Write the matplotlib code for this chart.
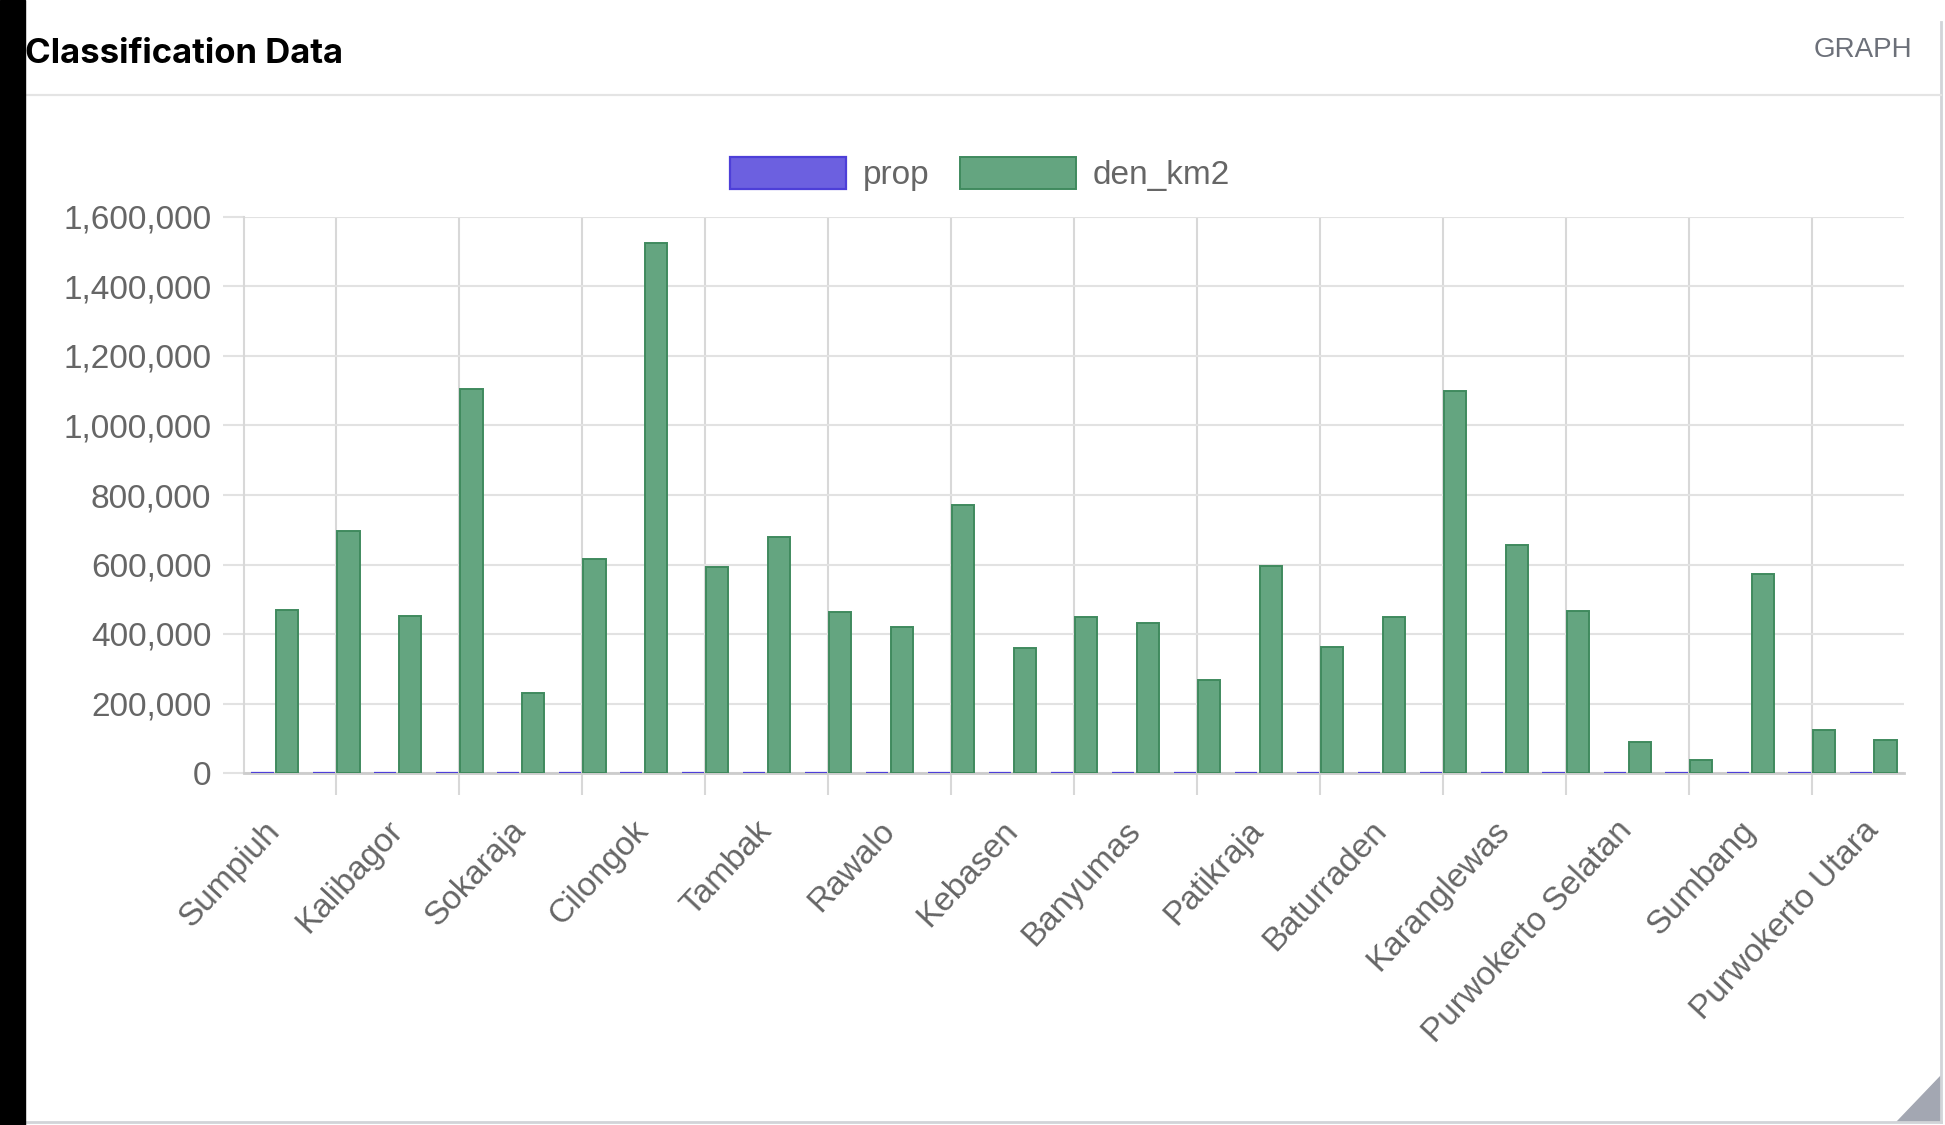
import numpy as np
import matplotlib
matplotlib.use("Agg")
import matplotlib.pyplot as plt
from matplotlib.ticker import FuncFormatter, FixedLocator
from matplotlib.patches import Rectangle, Polygon
from matplotlib.lines import Line2D

plt.rcParams["font.family"] = ["Liberation Sans", "DejaVu Sans"]

# 1. data: 27 districts, only every second label is shown on the axis
shown_labels = ["Sumpiuh", "Kalibagor", "Sokaraja", "Cilongok", "Tambak", "Rawalo",
                "Kebasen", "Banyumas", "Patikraja", "Baturraden", "Karanglewas",
                "Purwokerto Selatan", "Sumbang", "Purwokerto Utara"]
den_km2 = [470000, 695000, 452000, 1106000, 231000, 617000, 1526000, 592000, 678000,
           462000, 421000, 771000, 359000, 449000, 431000, 268000, 595000, 362000,
           449000, 1099000, 655000, 467000, 90000, 36000, 574000, 125000, 95000]
prop = [0, 0, 0, 0, 0, 0, 0, 0, 0, 0, 0, 0, 0, 0, 0, 0, 0, 0, 0, 0, 0, 0, 0, 0, 0, 0, 0]

W, H = 1945, 1125
fig = plt.figure(figsize=(W / 100, H / 100), dpi=100)
fig.patch.set_facecolor("white")

# 2. card frame
fig.add_artist(Rectangle((0, 0), 25 / W, 1, transform=fig.transFigure, color="black", zorder=5))
fig.add_artist(Line2D([1941 / W, 1941 / W], [1 - 1122 / H, 1 - 22 / H], transform=fig.transFigure,
                      color="#d2d4d8", lw=2))
fig.add_artist(Line2D([25 / W, 1941 / W], [1 - 1122 / H, 1 - 1122 / H], transform=fig.transFigure,
                      color="#d2d4d8", lw=2))
fig.add_artist(Polygon([[1897 / W, 1 - 1122 / H], [1941 / W, 1 - 1076 / H], [1941 / W, 1 - 1122 / H]],
                       closed=True, transform=fig.transFigure, color="#a3a7b2"))
fig.add_artist(Line2D([25 / W, 1941 / W], [1 - 95 / H, 1 - 95 / H], transform=fig.transFigure,
                      color="#e4e4e4", lw=1.6))

fig.text(25 / W, 1 - 63 / H, "Classification Data", family=["Inter", "DejaVu Sans"],
         fontweight="bold", fontsize=25, color="black", va="baseline")
fig.text(1912 / W, 1 - 57 / H, "GRAPH", fontsize=20, color="#6c7079", ha="right", va="baseline")

# 3. chart
ax = fig.add_axes([244 / W, 1 - 773 / H, (1904 - 244) / W, (773 - 217) / H])
x = np.arange(len(den_km2))
b1 = ax.bar(x - 0.2, prop, width=0.36, color="#6c60e0", edgecolor="#4d3fd8", linewidth=1.6,
            label="prop", zorder=3)
b2 = ax.bar(x + 0.2, den_km2, width=0.36, color="#64a580", edgecolor="#3f8a5e", linewidth=1.4,
            label="den_km2", zorder=3)

ax.set_xlim(-0.5, len(den_km2) - 0.5)
ax.set_ylim(0, 1600000)
ax.set_yticks(np.arange(0, 1600001, 200000))
ax.yaxis.set_major_formatter(FuncFormatter(lambda v, p: f"{int(v):,}"))

ax.set_xticks(x[::2])
ax.set_xticklabels(shown_labels, rotation=47, ha="right", va="center", rotation_mode="anchor")
ax.xaxis.set_minor_locator(FixedLocator(x[1::2]))

ax.set_axisbelow(True)
ax.grid(axis="y", which="major", color="#e2e2e2", lw=1.5)
ax.grid(axis="x", which="minor", color="#d8d8d8", lw=1.5)
ax.grid(axis="x", which="major", visible=False)

ax.tick_params(axis="y", length=15, width=1.5, color="#e2e2e2", pad=8.5, labelsize=24,
               labelcolor="#666666")
ax.tick_params(axis="x", which="major", length=0, pad=38, labelsize=24, labelcolor="#666666")
ax.tick_params(axis="x", which="minor", length=16, width=1.5, color="#d8d8d8")

for s in ["top", "right"]:
    ax.spines[s].set_visible(False)
ax.spines["left"].set_color("#d8d8d8")
ax.spines["left"].set_linewidth(1.5)
ax.spines["bottom"].set_color("#cccccc")
ax.spines["bottom"].set_linewidth(2)

leg = ax.legend(handles=[b1, b2], loc="center", bbox_to_anchor=(980 / W, 1 - 174 / H),
                bbox_transform=fig.transFigure, ncol=2, frameon=False, fontsize=24,
                handlelength=3.5, handleheight=1.1, handletextpad=0.5, columnspacing=0.9,
                borderpad=0, borderaxespad=0)
for t in leg.get_texts():
    t.set_color("#666666")

plt.savefig("out.png", dpi=100)
